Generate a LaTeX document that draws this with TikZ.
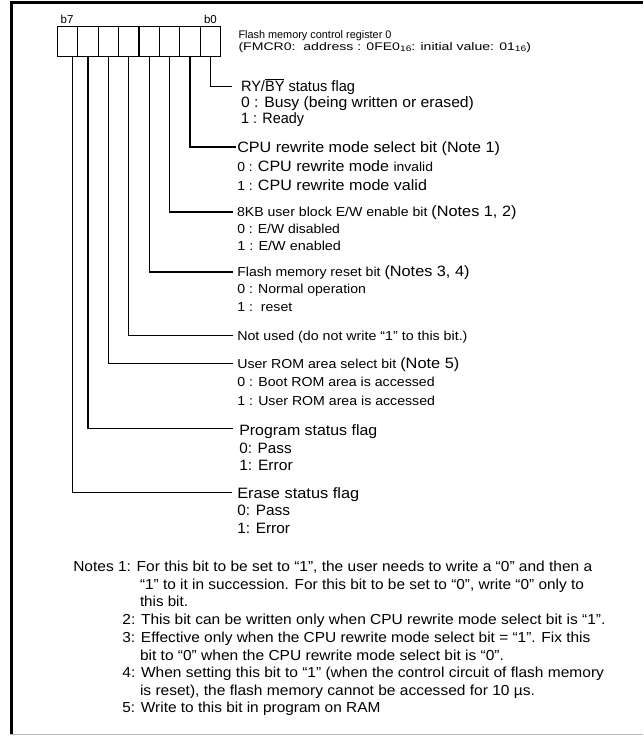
\documentclass[tikz,border=0pt]{standalone}
\usepackage{fontspec}
\setmainfont{Liberation Sans}
\usepackage{graphicx}
\newcommand{\fw}[2]{\resizebox{#1pt}{\height}{#2}}
\newcommand{\szS}{\fontsize{13}{15}\selectfont}
\newcommand{\szL}{\fontsize{15}{17}\selectfont}
\newcommand{\szH}{\fontsize{11}{13}\selectfont}
\newcommand{\szN}{\fontsize{14.5}{17}\selectfont}
\newcommand{\szB}{\fontsize{11.5}{13}\selectfont}
\newcommand{\sixteen}{\raisebox{-0.8pt}{\fontsize{8}{9}\selectfont 16}}
\begin{document}
\begin{tikzpicture}[x=1pt,y=-1pt,
  cell/.style={draw, line width=1.2pt, minimum width=20.425pt, minimum height=30pt, inner sep=0pt, outer sep=0pt},
  txt/.style={anchor=base west, inner sep=0pt, outer sep=0pt},
  conn/.style={line width=1.3pt},
  frame/.style={line width=2.6pt}]
\fill[white] (0,0) rectangle (643,736);
\useasboundingbox (0,0) rectangle (643,736);
% frame
\draw[frame] (10.4,2.7) -- (643,2.7);
\draw[frame] (11.7,1.4) -- (11.7,735);
\draw[gray!55, line width=1.5pt] (10.4,734.3) -- (643,734.3);
% register cells
\node[cell] (c7) at (67.51,41.7) {};
\node[cell] (c6) at (87.94,41.7) {};
\node[cell] (c5) at (108.36,41.7) {};
\node[cell] (c4) at (128.79,41.7) {};
\node[cell] (c3) at (149.21,41.7) {};
\node[cell] (c2) at (169.64,41.7) {};
\node[cell] (c1) at (190.06,41.7) {};
\node[cell] (c0) at (210.49,41.7) {};
\node[txt] (lb7) at (60.7,23.3) {\szB b7};
\node[txt] (lb0) at (204,23.3) {\szB b0};
% header
\node[txt] (hd1) at (238.5,38.5) {\fw{153}{\szH Flash memory control register 0}};
\node[txt] (hd2) at (238.5,50.5) {\fw{292.5}{\szH (FMCR0:\ \ address : 0FE0\sixteen: initial value: 01\sixteen)}};
% b0
\node[txt] (t0) at (241,91) {\fw{114}{\szL RY/\ensuremath{\overline{\mbox{BY}}} status flag}};
\node[txt] (t0a) at (241,107.5) {\fw{233}{\szL 0 : Busy (being written or erased)}};
\node[txt] (t0b) at (241,123.7) {\fw{63}{\szL 1 : Ready}};
% b1
\node[txt] (t1) at (237.3,152) {\fw{262.7}{\szL CPU rewrite mode select bit (Note 1)}};
\node[txt] (t1a) at (237.3,171.5) {\fw{195.7}{{\szS 0 : }{\szL CPU rewrite mode }{\szS invalid}}};
\node[txt] (t1b) at (237.3,190) {\fw{189.7}{{\szS 1 : }{\szL CPU rewrite mode valid}}};
% b2
\node[txt] (t2) at (237,216.5) {\fw{279.5}{{\szS 8KB user block E/W enable bit }{\szL (Notes 1, 2)}}};
\node[txt] (t2a) at (237.3,233.5) {\fw{102.7}{\szS 0 : E/W disabled}};
\node[txt] (t2b) at (237.3,250.8) {\fw{103.7}{\szS 1 : E/W enabled}};
% b3
\node[txt] (t3) at (237.3,276.5) {\fw{232.2}{{\szS Flash memory reset bit }{\szL (Notes 3, 4)}}};
\node[txt] (t3a) at (237.3,293.8) {\fw{128.7}{\szS 0 : Normal operation}};
\node[txt] (t3b) at (237.3,311.5) {\fw{55}{\szS 1 :\ \ reset}};
% b4
\node[txt] (t4) at (237.3,340) {\fw{230.2}{\szS Not used (do not write “1” to this bit.)}};
% b5
\node[txt] (t5) at (237.3,368.2) {\fw{222}{{\szS User ROM area select bit }{\szL (Note 5)}}};
\node[txt] (t5a) at (237.3,386.8) {\fw{197.4}{\szS 0 : Boot ROM area is accessed}};
\node[txt] (t5b) at (237.3,405.2) {\fw{197.7}{\szS 1 : User ROM area is accessed}};
% b6
\node[txt] (t6) at (239.3,435) {\fw{138}{\szL Program status flag}};
\node[txt] (t6a) at (239.3,453.3) {\fw{52.4}{\szL 0: Pass}};
\node[txt] (t6b) at (239.3,470.5) {\fw{53.4}{\szL 1: Error}};
% b7
\node[txt] (t7) at (237.3,498.3) {\fw{122}{\szL Erase status flag}};
\node[txt] (t7a) at (237.3,515.7) {\fw{52.7}{\szL 0: Pass}};
\node[txt] (t7b) at (237.3,533.3) {\fw{52.7}{\szL 1: Error}};
% connectors
\draw[conn] (c0.south) |- ([xshift=-9pt,yshift=4.3pt]t0.base west);
\draw[conn] (c1.south) |- ([xshift=-1.5pt,yshift=5pt]t1.base west);
\draw[conn] (c2.south) |- ([xshift=-4pt,yshift=4.5pt]t2.base west);
\draw[conn] (c3.south) |- ([xshift=-4.5pt,yshift=4.5pt]t3.base west);
\draw[conn] (c4.south) |- ([xshift=-4.5pt,yshift=4.5pt]t4.base west);
\draw[conn] (c5.south) |- ([xshift=-4.5pt,yshift=4.5pt]t5.base west);
\draw[conn] (c6.south) |- ([xshift=-6pt,yshift=6.5pt]t6.base west);
\draw[conn] ([xshift=4.8pt]c7.south) |- ([xshift=-5.6pt,yshift=6pt]t7.base west);
% notes
\node[txt] (n1) at (73.3,571) {\fw{518.9}{\szN Notes 1: For this bit to be set to “1”, the user needs to write a “0” and then a}};
\node[txt] (n2) at (140,589) {\fw{444}{\szN “1” to it in succession. For this bit to be set to “0”, write “0” only to}};
\node[txt] (n3) at (140,606.5) {\fw{48}{\szN this bit.}};
\node[txt] (n4) at (122.4,624) {\fw{483}{\szN 2: This bit can be written only when CPU rewrite mode select bit is “1”.}};
\node[txt] (n5) at (122.4,642) {\fw{468}{\szN 3: Effective only when the CPU rewrite mode select bit = “1”. Fix this}};
\node[txt] (n6) at (140,660) {\fw{364}{\szN bit to “0” when the CPU rewrite mode select bit is “0”.}};
\node[txt] (n7) at (122.4,677) {\fw{481.6}{\szN 4: When setting this bit to “1” (when the control circuit of flash memory}};
\node[txt] (n8) at (140,695) {\fw{395}{\szN is reset), the flash memory cannot be accessed for 10 µs.}};
\node[txt] (n9) at (122.4,712) {\fw{258}{\szN 5: Write to this bit in program on RAM}};
\end{tikzpicture}
\end{document}
